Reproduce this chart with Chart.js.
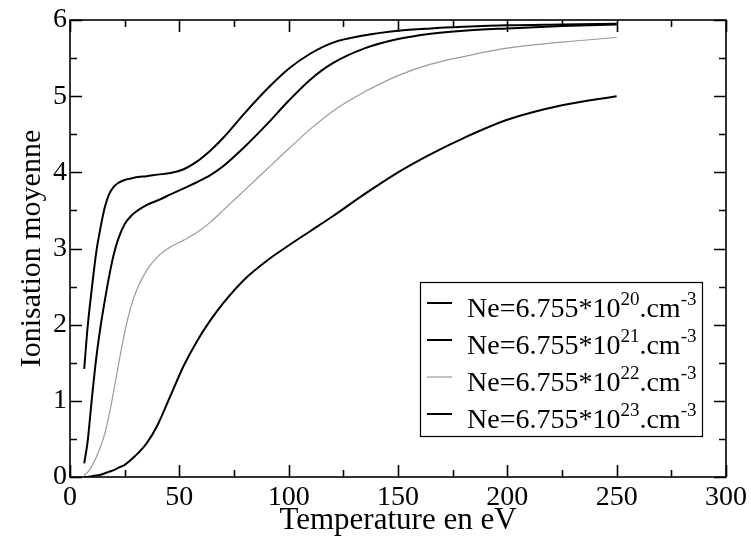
<!DOCTYPE html>
<html>
<head>
<meta charset="utf-8">
<script src="https://cdn.jsdelivr.net/npm/chart.js@4"></script>
<style>
  body { margin: 0; background: #fff; }
  canvas { display: block; }
</style>
</head>
<body>
<canvas id="myChart" width="751" height="538"></canvas>
<script>
// temperature (eV) and mean ionisation for each electron density
var temperature = [6.5, 8, 10, 12, 14, 16, 18, 20, 22, 25, 28, 31, 35, 40, 46, 52, 58, 64, 70, 80, 90, 100, 110, 120, 135, 150, 165, 180, 200, 225, 250]
var z20 = [1.42, 1.95, 2.48, 2.95, 3.28, 3.55, 3.72, 3.81, 3.86, 3.90, 3.92, 3.94, 3.95, 3.97, 3.99, 4.04, 4.14, 4.28, 4.45, 4.78, 5.09, 5.36, 5.56, 5.70, 5.80, 5.86, 5.89, 5.91, 5.93, 5.94, 5.95]
var z21 = [0.18, 0.45, 1.03, 1.56, 1.98, 2.33, 2.65, 2.92, 3.12, 3.32, 3.43, 3.50, 3.57, 3.63, 3.71, 3.79, 3.87, 3.96, 4.08, 4.34, 4.63, 4.94, 5.22, 5.43, 5.63, 5.75, 5.82, 5.86, 5.89, 5.92, 5.94]
var z22 = [0.02, 0.06, 0.14, 0.26, 0.40, 0.58, 0.83, 1.13, 1.45, 1.90, 2.25, 2.49, 2.71, 2.89, 3.02, 3.11, 3.21, 3.34, 3.50, 3.77, 4.04, 4.31, 4.57, 4.80, 5.06, 5.27, 5.42, 5.52, 5.63, 5.71, 5.77]
var z23 = [0.00, 0.00, 0.01, 0.02, 0.03, 0.05, 0.07, 0.09, 0.12, 0.16, 0.23, 0.31, 0.44, 0.68, 1.07, 1.46, 1.78, 2.05, 2.28, 2.60, 2.84, 3.04, 3.23, 3.42, 3.72, 4.00, 4.24, 4.45, 4.69, 4.88, 5.00]

var exposants = ["20", "21", "22", "23"]
var couleurs = ["#000000", "#000000", "#9a9a9a", "#000000"]
var epaisseurs = [2, 2, 1.2, 2]

var police = "Liberation Serif, Times New Roman, serif"
Chart.defaults.font.family = police
Chart.defaults.color = "#000"

function points(vals) {
    return temperature.map(function (t, i) { return { x: t, y: vals[i] } })
}

var series = [z20, z21, z22, z23]
var datasets = series.map(function (vals, i) {
    return {
        label: "Ne=6.755*10^" + exposants[i] + ".cm^-3",
        data: points(vals),
        borderColor: couleurs[i],
        borderWidth: epaisseurs[i],
        pointRadius: 0,
        fill: false,
        cubicInterpolationMode: "monotone"
    }
})

// frame with inward ticks on all four sides
var cadre = {
    id: "cadre",
    afterDraw: function (chart) {
        var ctx = chart.ctx
        var a = chart.chartArea
        var xs = chart.scales.x
        var ys = chart.scales.y
        ctx.save()
        ctx.strokeStyle = "#000"
        ctx.lineWidth = 1.6
        ctx.strokeRect(a.left, a.top, a.right - a.left, a.bottom - a.top)
        ctx.beginPath()
        for (var v = 0; v <= 300; v += 25) {
            var px = Math.round(xs.getPixelForValue(v)) + 0.5
            var len = v % 50 == 0 ? 12 : 7
            ctx.moveTo(px, a.bottom); ctx.lineTo(px, a.bottom - len)
            ctx.moveTo(px, a.top); ctx.lineTo(px, a.top + len)
        }
        for (var w = 0; w <= 6; w += 0.5) {
            var py = Math.round(ys.getPixelForValue(w)) + 0.5
            var l2 = w % 1 == 0 ? 12 : 7
            ctx.moveTo(a.left, py); ctx.lineTo(a.left + l2, py)
            ctx.moveTo(a.right, py); ctx.lineTo(a.right - l2, py)
        }
        ctx.stroke()
        ctx.restore()
    }
}

// legend box with superscript exponents
var legende = {
    id: "legende",
    afterDraw: function (chart) {
        var ctx = chart.ctx
        var bx = 420, by = 282, bw = 282, bh = 154
        ctx.save()
        ctx.fillStyle = "#fff"
        ctx.fillRect(bx, by, bw, bh)
        ctx.strokeStyle = "#000"
        ctx.lineWidth = 1.2
        ctx.strokeRect(bx + 0.5, by + 0.5, bw, bh)
        ctx.textBaseline = "alphabetic"
        for (var i = 0; i < exposants.length; i++) {
            var y = by + 21 + i * 37
            ctx.strokeStyle = couleurs[i]
            ctx.lineWidth = epaisseurs[i]
            ctx.beginPath()
            ctx.moveTo(427, y); ctx.lineTo(452, y)
            ctx.stroke()
            var base = y + 14
            var x = 467
            ctx.fillStyle = "#000"
            ctx.font = "28px " + police
            ctx.fillText("Ne=6.755*10", x, base)
            x += ctx.measureText("Ne=6.755*10").width
            ctx.font = "19px " + police
            ctx.fillText(exposants[i], x, base - 12)
            x += ctx.measureText(exposants[i]).width
            ctx.font = "28px " + police
            ctx.fillText(".cm", x, base)
            x += ctx.measureText(".cm").width
            ctx.font = "19px " + police
            ctx.fillText("-3", x, base - 12)
        }
        ctx.restore()
    }
}

var myChart = document.getElementById("myChart").getContext("2d")

var chart = new Chart(myChart, {
    type: "line",
    data: { datasets: datasets },
    options: {
        responsive: false,
        animation: false,
        layout: { padding: { top: 20, right: 22, left: 0, bottom: 0 } },
        plugins: { legend: { display: false }, tooltip: { enabled: false } },
        scales: {
            x: {
                type: "linear",
                min: 0, max: 300,
                grid: { display: false, drawTicks: false },
                border: { display: false },
                ticks: { stepSize: 50, padding: 4, maxRotation: 0, font: { size: 28 } },
                title: { display: true, text: "Temperature en eV", font: { size: 31, lineHeight: 1 }, padding: { top: 0, bottom: 2 } },
                afterFit: function (s) { s.height = 61 }
            },
            y: {
                min: 0, max: 6,
                grid: { display: false, drawTicks: false },
                border: { display: false },
                ticks: { stepSize: 1, padding: 3, font: { size: 28 } },
                title: { display: true, text: "Ionisation moyenne", font: { size: 30, lineHeight: 1 }, padding: { top: 17, bottom: 0 } },
                afterFit: function (s) { s.width = 70 }
            }
        }
    },
    plugins: [cadre, legende]
})
</script>
</body>
</html>
